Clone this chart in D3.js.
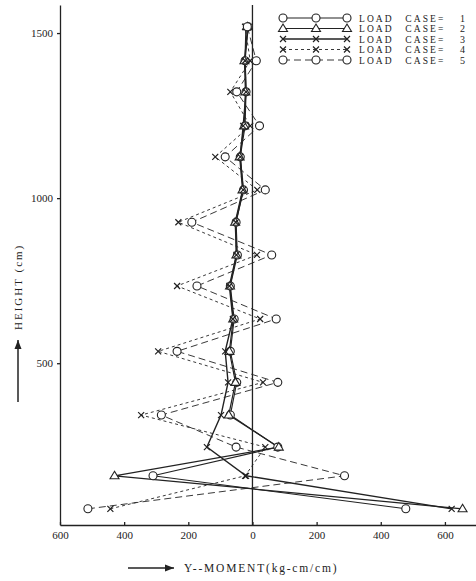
<!DOCTYPE html>
<meta charset="utf-8">
<title>Y-moment vs height</title>
<script src="https://d3js.org/d3.v7.min.js"></script>
<style>
  body { margin: 0; background: #fff; }
  text { font-family: "Liberation Serif", "DejaVu Serif", serif; fill: #222; }
</style>
<div id="chart"></div>
<script>
// floor heights (cm), bottom to top
var heights = [59, 159, 246, 343, 442, 536, 634, 734, 828, 927, 1025, 1125, 1219, 1322, 1416, 1519];

// Y-moment (kg-cm/cm) per load case, same order as heights
var case1 = [478, -310, 79, -69, -49, -69, -57, -69, -47, -51, -28, -38, -23, -20, -23, -13];
var case2 = [655, -430, 82, -74, -53, -72, -60, -70, -50, -54, -31, -40, -26, -22, -25, -15];
var case3 = [621, -20, -142, -98, -76, -85, -61, -72, -50, -52, -29, -38, -29, -20, -23, -20];
var case4 = [-443, -23, 40, -347, 33, -294, 24, -235, 14, -231, 15, -116, -7, -69, -7, -23];
var case5 = [-513, 287, -51, -284, 79, -235, 74, -173, 60, -189, 40, -85, 22, -49, 12, -16];

var caseLabels = ["1", "2", "3", "4", "5"];
var xTicks = [-600, -400, -200, 0, 200, 400, 600];
var yTicks = [500, 1000, 1500];

var W = 476, H = 581;
var ink = "#222";

var x = d3.scaleLinear().domain([-600, 700]).range([60, 477]);
var y = d3.scaleLinear().domain([10, 1585]).range([525, 5]);

var series = [
  {vals: case1, mark: "circle",   dash: null,  width: 1.1},
  {vals: case2, mark: "triangle", dash: null,  width: 1.2},
  {vals: case3, mark: "x",        dash: null,  width: 1.4},
  {vals: case4, mark: "x",        dash: "3,3", width: 0.9},
  {vals: case5, mark: "circle",   dash: "7,4", width: 0.9}
];

var svg = d3.select("#chart").append("svg")
    .attr("width", W)
    .attr("height", H);

// axes
svg.append("g")
    .attr("transform", "translate(0," + y.range()[0] + ")")
    .call(d3.axisBottom(x).tickValues(xTicks).tickSizeInner(-3).tickSizeOuter(0)
      .tickPadding(6).tickFormat(function(d) { return Math.abs(d); }));
svg.append("g")
    .attr("transform", "translate(" + x.range()[0] + ",0)")
    .call(d3.axisLeft(y).tickValues(yTicks).tickSize(3).tickSizeOuter(0).tickPadding(4)
      .tickFormat(d3.format("d")));

svg.selectAll(".domain, .tick line").attr("stroke", ink).attr("stroke-width", 1.3);
svg.selectAll(".tick text").attr("font-size", 11).attr("fill", ink)
    .style("font-family", "'Liberation Serif', serif");

// zero line
svg.append("line")
    .attr("x1", x(0)).attr("x2", x(0))
    .attr("y1", y.range()[1]).attr("y2", y.range()[0])
    .attr("stroke", ink).attr("stroke-width", 1.3);

function drawMark(g, kind, cx, cy) {
  if (kind === "circle") {
    g.append("circle").attr("cx", cx).attr("cy", cy).attr("r", 4)
      .attr("fill", "#fff").attr("stroke", ink).attr("stroke-width", 1.1);
  } else if (kind === "triangle") {
    g.append("path")
      .attr("d", "M" + cx + "," + (cy - 4.5) + "L" + (cx + 4.5) + "," + (cy + 3) + "L" + (cx - 4.5) + "," + (cy + 3) + "Z")
      .attr("fill", "#fff").attr("stroke", ink).attr("stroke-width", 1.1);
  } else {
    g.append("path")
      .attr("d", "M" + (cx - 3) + "," + (cy - 3) + "L" + (cx + 3) + "," + (cy + 3) +
                 "M" + (cx - 3) + "," + (cy + 3) + "L" + (cx + 3) + "," + (cy - 3))
      .attr("fill", "none").attr("stroke", ink).attr("stroke-width", 1.2);
  }
}

var line = d3.line()
    .x(function(d) { return x(d[0]); })
    .y(function(d) { return y(d[1]); });

// lines
series.forEach(function(s) {
  var pts = s.vals.map(function(v, i) { return [v, heights[i]]; });
  svg.append("path")
    .attr("d", line(pts))
    .attr("fill", "none")
    .attr("stroke", ink)
    .attr("stroke-width", s.width)
    .attr("stroke-dasharray", s.dash);
});

// markers
series.forEach(function(s) {
  var g = svg.append("g");
  s.vals.forEach(function(v, i) { drawMark(g, s.mark, x(v), y(heights[i])); });
});

// legend
var leg = svg.append("g");
series.forEach(function(s, i) {
  var ly = 18 + i * 10.5;
  leg.append("line")
    .attr("x1", 283).attr("x2", 347).attr("y1", ly).attr("y2", ly)
    .attr("stroke", ink).attr("stroke-width", s.width)
    .attr("stroke-dasharray", s.dash);
  [283, 316, 347].forEach(function(px) { drawMark(leg, s.mark, px, ly); });
  leg.append("text")
    .attr("x", 359).attr("y", ly + 3.5)
    .attr("font-size", 9.5)
    .attr("letter-spacing", 2.1)
    .attr("word-spacing", 7)
    .text("LOAD CASE=");
  leg.append("text")
    .attr("x", 460).attr("y", ly + 3.5)
    .attr("font-size", 10)
    .text(caseLabels[i]);
});

// axis titles with arrows
function arrow(x1, y1, x2, y2) {
  svg.append("line").attr("x1", x1).attr("y1", y1).attr("x2", x2).attr("y2", y2)
    .attr("stroke", ink).attr("stroke-width", 1.5);
  var a = Math.atan2(y2 - y1, x2 - x1), L = 9, w = 3.5;
  var bx = x2 - L * Math.cos(a), by = y2 - L * Math.sin(a);
  svg.append("path")
    .attr("d", "M" + x2 + "," + y2 +
      "L" + (bx + w * Math.sin(a)) + "," + (by - w * Math.cos(a)) +
      "L" + (bx - w * Math.sin(a)) + "," + (by + w * Math.cos(a)) + "Z")
    .attr("fill", ink);
}

arrow(128, 568, 174, 568);
svg.append("text")
  .attr("x", 184).attr("y", 572)
  .attr("font-size", 11.5)
  .attr("letter-spacing", 1.8)
  .text("Y--MOMENT(kg-cm/cm)");

arrow(18, 402, 18, 340);
svg.append("text")
  .attr("transform", "translate(22,330) rotate(-90)")
  .attr("font-size", 11)
  .attr("letter-spacing", 2)
  .text("HEIGHT (cm)");
</script>
